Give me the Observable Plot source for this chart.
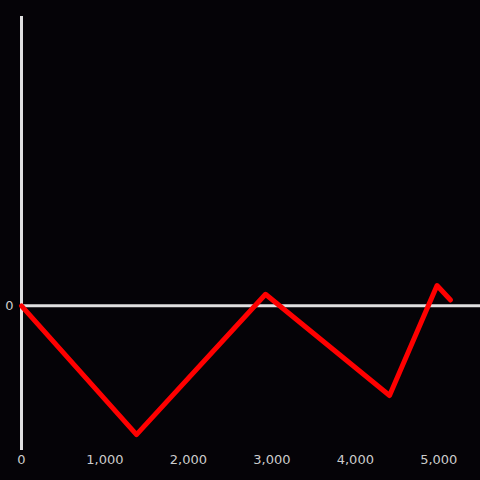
<!DOCTYPE html>
<html>
<head>
<meta charset="utf-8">
<script src="https://cdn.jsdelivr.net/npm/d3@7"></script>
<script src="https://cdn.jsdelivr.net/npm/@observablehq/plot@0.6"></script>
<style>
  html, body { margin: 0; padding: 0; background: #050307; }
</style>
</head>
<body>
<div id="chart"></div>
<script>
const xValues = [0, 1378, 2924, 4410, 4979, 5141];
const yValues = [0, -89, 8, -62, 14, 4];
const xTicks = [0, 1000, 2000, 3000, 4000, 5000];
const yTicks = [0];

const data = xValues.map((x, i) => ({x, y: yValues[i]}));

const chart = Plot.plot({
  width: 480,
  height: 480,
  marginLeft: 21,
  marginRight: 0,
  marginTop: 16,
  marginBottom: 30,
  style: {background: "#050307", color: "#cccccc", fontSize: "13px", fontFamily: "'DejaVu Sans', sans-serif"},
  x: {domain: [0, 5500], label: null},
  y: {domain: [-100, 200], label: null},
  marks: [
    Plot.ruleX([0], {stroke: "#e0e0e0", strokeWidth: 3}),
    Plot.ruleY([0], {stroke: "#e0e0e0", strokeWidth: 3}),
    Plot.line(data, {x: "x", y: "y", stroke: "#ff0000", strokeWidth: 5}),
    Plot.axisX({ticks: xTicks, tickFormat: d3.format(","), tickSize: 0, tickPadding: 4, label: null, fill: "#cccccc", fontSize: 13}),
    Plot.axisY({ticks: yTicks, tickSize: 0, tickPadding: 8, label: null, fill: "#cccccc", fontSize: 13})
  ]
});
document.getElementById("chart").appendChild(chart);
</script>
</body>
</html>
